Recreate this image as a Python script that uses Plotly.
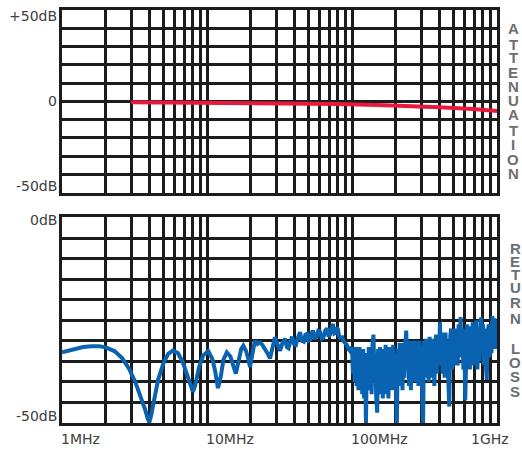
import math
import plotly.graph_objects as go

# ---------------- data ----------------
att_freq_mhz = [3, 10, 30, 80, 150, 300, 400, 680, 1000]
att_db = [-0.5, -0.7, -1.0, -1.5, -2.0, -2.7, -3.2, -4.2, -5.3]

rl_freq_low = [
    1.0, 1.2, 1.4, 1.6, 1.8, 2.0, 2.3, 2.6, 2.9, 3.2, 3.5, 3.75, 3.9, 4.0, 4.1, 4.3, 4.6, 5.0, 5.4, 5.8,
    6.3, 6.8, 7.3, 7.7, 8.0, 8.3, 8.8, 9.4, 10.2, 10.9, 11.4, 11.9, 12.4, 13.0, 13.7, 14.5, 15.2, 15.8,
    16.5, 17.2, 17.8, 18.6, 19.3, 19.8, 20.5, 21.4, 22.3,
    23.2, 24.1, 25.0, 26.1, 27.2, 28.3, 29.4, 30.6, 31.9, 33.2, 34.5, 35.5, 36.5, 37.5, 38.6, 39.8,
    41.0, 42.4, 43.8, 45.1, 46.5, 47.7, 49.0, 50.2, 51.5, 52.6, 53.8, 55.4, 57.0, 58.5, 60.1, 61.8,
    63.5, 65.4, 67.3, 68.9, 70.5, 72.2, 73.9, 75.5, 77.0, 78.5, 80.0, 81.5, 83.0, 85.0, 87.0, 89.5,
    92.0, 94.5, 97.0,
]
rl_db_low = [
    -32.8, -32.0, -31.5, -31.3, -31.3, -31.6, -32.5, -34.2, -36.8, -40.0, -43.5, -46.8, -49.0, -49.8, -48.5, -44.5, -39.5, -35.5, -33.2, -32.4,
    -33.0, -35.2, -38.5, -41.2, -42.4, -40.8, -36.5, -33.6, -32.5, -34.5, -37.5, -41.5, -39.0, -34.5, -32.8, -33.8, -36.0, -38.0,
    -35.0, -32.0, -31.2, -32.5, -34.5, -36.4, -33.5, -30.0, -30.8,
    -30.4, -31.0, -31.8, -33.0, -34.3, -31.5, -29.1, -30.8, -32.4, -30.5, -29.5, -31.5, -31.8, -30.2, -29.0, -30.8,
    -31.0, -29.2, -27.9, -30.0, -30.2, -28.5, -28.3, -30.0, -29.8, -28.2, -27.5, -29.5, -29.0, -27.6, -27.8, -29.5,
    -29.2, -27.5, -27.0, -29.0, -28.5, -27.0, -25.9, -28.2, -28.0, -26.8, -27.2, -29.0, -29.5, -28.8, -30.0, -30.5,
    -31.0, -32.0, -32.5,
]

rl_freq_high = [
    100, 101.5, 103, 104.5, 106, 107.6, 109.2, 110.8, 112.5, 114.2,
    115.9, 117.6, 119.4, 121.2, 123, 124.8, 126.7, 128.6, 130.5, 132.5,
    134.5, 136.5, 138.5, 140.6, 142.7, 144.8, 147, 149.2, 151.4, 153.7,
    156, 158.3, 160.7, 163.1, 165.5, 168, 170.5, 173.1, 175.7, 178.3,
    181, 183.7, 186.5, 189.3, 192.1, 195, 197.9, 200.9, 203.9, 206.9,
    210, 213.2, 216.4, 219.6, 222.9, 226.2, 229.6, 233.1, 236.6, 240.1,
    243.7, 247.4, 251.1, 254.9, 258.7, 262.6, 266.5, 270.5, 274.5, 278.6,
    282.8, 287, 291.3, 295.7, 300.1, 304.6, 309.2, 313.8, 318.5, 323.3,
    328.1, 333, 338, 343.1, 348.2, 353.4, 358.7, 364.1, 369.6, 375.1,
    380.7, 386.4, 392.2, 398.1, 404.1, 410.2, 416.3, 422.5, 428.8, 435.2,
    441.7, 448.3, 455, 461.8, 468.7, 475.7, 482.8, 490, 497.4, 504.9,
    512.5, 520.2, 528, 535.9, 543.9, 552, 560.3, 568.7, 577.2, 585.9,
    594.7, 603.6, 612.7, 621.9, 631.2, 640.7, 650.3, 660, 669.9, 679.9,
    690.1, 700.5, 711, 721.7, 732.5, 743.5, 754.7, 766, 777.5, 789.2,
    801, 813, 825.2, 837.6, 850.2, 862.9, 875.8, 888.9, 902.2, 915.7,
    929.4, 943.3, 957.5, 971.9, 986.5, 1000,
]
rl_db_high = [
    -31.5, -38, -33, -40, -31.5, -41, -34, -42, -31.5, -40,
    -33, -43, -32, -44, -36, -50, -33, -42, -31.5, -41,
    -33, -43, -31, -28.5, -38, -33, -44, -47.5, -32, -42,
    -31.5, -43, -34, -44, -32, -41, -31, -43, -33, -44,
    -31.5, -40, -32, -42, -31, -39, -33, -44, -50, -32,
    -41, -30.5, -40, -32, -42, -30.5, -39, -31, -27.5, -37,
    -30, -41, -31, -42, -30, -38, -31.5, -40, -30, -39,
    -32, -41, -30, -38, -31, -43, -50, -30, -39, -29.5,
    -38, -30, -40, -29, -37, -30.5, -39, -29.5, -41, -31,
    -28.5, -38, -30, -36, -25.5, -35, -28, -38, -29, -39,
    -28, -37, -30, -40, -46, -29, -27, -37, -28, -36,
    -27, -35, -28.5, -36, -26, -34, -24.2, -32, -27, -37,
    -27, -44.5, -30, -26, -35, -26.5, -37, -27, -34, -25.5,
    -36, -27, -33, -25, -37, -27, -35, -26, -24.3, -33,
    -26, -36, -27, -35, -39.5, -28, -26, -34, -27, -33,
    -24, -30, -24.5, -32, -25, -31,
]

x_grid_mhz = [1, 2, 3, 4, 5, 6, 7, 8, 9,
              10, 20, 30, 40, 50, 60, 70, 80, 90,
              100, 200, 300, 400, 500, 600, 700, 800, 900, 1000]
x_label_mhz = [1, 10, 100, 1000]
x_label_text = ["1MHz", "10MHz", "100MHz", "1GHz"]

top_label_db = [50, 0, -50]
top_label_text = ["+50dB", "0", "-50dB"]
bot_label_db = [0, -50]
bot_label_text = ["0dB", "-50dB"]

side_top_text = "ATTENUATION"
side_bot_text = "RETURN LOSS"

# ---------------- figure ----------------
W, H = 522, 452
ML, MR, MT, MB = 62, 25, 7, 29
PH = H - MT - MB


def py(p):
    return (H - MB - p) / PH


GRID = "#1c1c1c"
fig = go.Figure()
fig.add_trace(go.Scatter(x=att_freq_mhz, y=att_db, mode="lines", xaxis="x", yaxis="y",
                         line=dict(color="#e8193c", width=4), showlegend=False, hoverinfo="skip"))
fig.add_trace(go.Scatter(x=rl_freq_low + rl_freq_high, y=rl_db_low + rl_db_high, mode="lines",
                         xaxis="x2", yaxis="y2",
                         line=dict(color="#0a63b0", width=4), showlegend=False, hoverinfo="skip"))

xcommon = dict(type="log", range=[0, 3], tickvals=x_grid_mhz, showticklabels=False, ticks="",
               showgrid=True, gridcolor=GRID, gridwidth=2.5, showline=True, linecolor=GRID,
               linewidth=3, mirror=True, zeroline=False)
fig.update_layout(
    width=W, height=H, margin=dict(l=ML, r=MR, t=MT, b=MB),
    paper_bgcolor="white", plot_bgcolor="white",
    xaxis=dict(domain=[0, 1], anchor="y", **xcommon),
    xaxis2=dict(domain=[0, 1], anchor="y2", **xcommon),
    yaxis=dict(domain=[py(191), 1], range=[-50, 50], dtick=10, showticklabels=False, ticks="",
               showgrid=True, gridcolor=GRID, gridwidth=2.5, showline=True, linecolor=GRID,
               linewidth=3, mirror=True, zeroline=False),
    yaxis2=dict(domain=[0, py(216)], range=[-50, 0], dtick=5, showticklabels=False, ticks="",
                showgrid=True, gridcolor=GRID, gridwidth=2.5, showline=True, linecolor=GRID,
                linewidth=3, mirror=True, zeroline=False),
)

lab_font = dict(family="DejaVu Sans", size=14, color="#404040")
ann = []
shifts_top = [-6, 0, 7]
for v, t, s in zip(top_label_db, top_label_text, shifts_top):
    ann.append(dict(text=t, xref="paper", x=0, xanchor="right", xshift=-3, yref="y", y=v,
                    yanchor="middle", yshift=s, showarrow=False, font=lab_font))
shifts_bot = [-3, 7]
for v, t, s in zip(bot_label_db, bot_label_text, shifts_bot):
    ann.append(dict(text=t, xref="paper", x=0, xanchor="right", xshift=-3, yref="y2", y=v,
                    yanchor="middle", yshift=s, showarrow=False, font=lab_font))
for i, (v, t) in enumerate(zip(x_label_mhz, x_label_text)):
    last = i == len(x_label_mhz) - 1
    ann.append(dict(text=t, xref="x2", x=math.log10(v), xanchor="center" if last else "left",
                    xshift=-7 if last else -3, yref="paper", y=0, yanchor="middle", yshift=-16,
                    showarrow=False, font=lab_font))

side_font = dict(family="Liberation Sans", size=15, color="#6e6e6e")
top_centers = [26, 42, 55, 70, 84, 98, 112.5, 128, 142.5, 157.5, 172]
for ch, c in zip(side_top_text, top_centers):
    ann.append(dict(text="<b>%s</b>" % ch, xref="paper", x=1, xanchor="center", xshift=16,
                    yref="paper", y=py(c), yanchor="middle", showarrow=False, font=side_font,
                    borderpad=0))
bot_centers = [247, 260, 273, 287, 302, 317.5, None, 348, 362.5, 376, 391]
for ch, c in zip(side_bot_text, bot_centers):
    if c is None:
        continue
    ann.append(dict(text="<b>%s</b>" % ch, xref="paper", x=1, xanchor="center", xshift=18,
                    yref="paper", y=py(c), yanchor="middle", showarrow=False, font=side_font,
                    borderpad=0))

fig.update_layout(annotations=ann)
fig.write_html("out.html", config={"displayModeBar": False},
               post_script="document.body.style.margin='0';document.body.style.padding='0';")
